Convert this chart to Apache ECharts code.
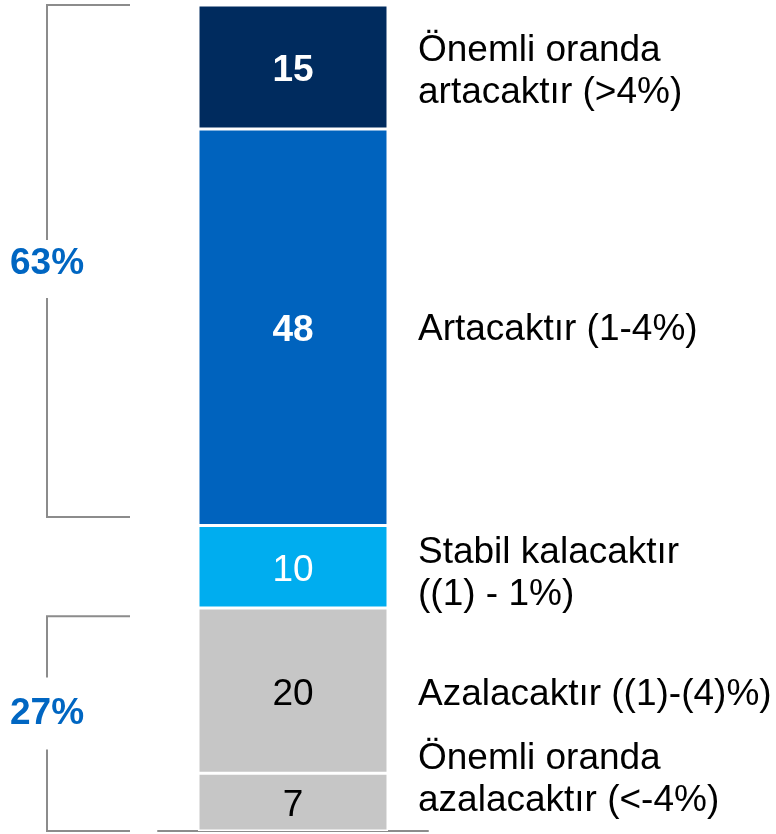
<!DOCTYPE html>
<html>
<head>
<meta charset="utf-8">
<script src="https://cdn.jsdelivr.net/npm/echarts@6/dist/echarts.min.js"></script>
<style>
	html, body { margin: 0; padding: 0; background: #fff; }
	#chart { width: 776px; height: 834px; }
</style>
</head>
<body>
<div id="chart"></div>
<script>
'use strict';
// data, bottom to top
var categories = [''];
var segmentNames = [
	'Önemli oranda\nazalacaktır (<-4%)',
	'Azalacaktır ((1)-(4)%)',
	'Stabil kalacaktır\n((1) - 1%)',
	'Artacaktır (1-4%)',
	'Önemli oranda\nartacaktır (>4%)'
];
var segmentValues = [7, 20, 10, 48, 15];
// bracket spans (value range on the bar scale) and their labels
var groupRanges = [[38, 100], [0, 26]];
var groupLabels = ['63%', '27%'];

// styles
var segmentColors = ['#C6C6C6', '#C6C6C6', '#00ADEF', '#0063BE', '#002B5E'];
var valueColors = ['#000', '#000', '#fff', '#fff', '#fff'];
var valueWeights = ['normal', 'normal', 'normal', 'bold', 'bold'];
var nameOffsets = [[0, -22], [0, 4], [0, 7], [0, 3], [0, 5]];
var bracketTextShift = [3, -10];
var bracketGaps = [[24, 34], [36, 36]];
var fontName = 'Liberation Sans, Arial, sans-serif';
var lineGray = '#8C8C8C';

var chart = echarts.init(document.getElementById('chart'));

var series = [];
// the stacked bar itself
for (var i = 0; i < segmentValues.length; i++) {
	series.push({
		name: segmentNames[i],
		type: 'bar',
		stack: 'bar',
		xAxisIndex: 0,
		yAxisIndex: 0,
		barWidth: 190,
		itemStyle: { color: segmentColors[i], borderColor: '#fff', borderWidth: 1.5 },
		label: {
			show: true,
			position: 'inside',
			offset: [0, 4],
			fontFamily: fontName,
			fontSize: 37,
			fontWeight: valueWeights[i],
			color: valueColors[i],
			formatter: '{c}'
		},
		data: [segmentValues[i]]
	});
}
// invisible twin stack carrying the category names on the right
for (var j = 0; j < segmentValues.length; j++) {
	series.push({
		name: segmentNames[j] + ' ',
		type: 'bar',
		stack: 'names',
		xAxisIndex: 1,
		yAxisIndex: 1,
		barWidth: '100%',
		silent: true,
		itemStyle: { color: 'rgba(0,0,0,0)' },
		label: {
			show: true,
			position: 'insideLeft',
			distance: 0,
			offset: nameOffsets[j],
			fontFamily: fontName,
			fontSize: 37,
			lineHeight: 42,
			color: '#000',
			formatter: segmentNames[j]
		},
		data: [segmentValues[j]]
	});
}
// brackets on the left
series.push({
	type: 'custom',
	xAxisIndex: 2,
	yAxisIndex: 2,
	silent: true,
	encode: { x: 0, y: [1, 2] },
	renderItem: function (params, api) {
		var k = params.dataIndex;
		var lo = api.coord([0, api.value(1)])[1];
		var hi = api.coord([0, api.value(2)])[1];
		var cs = params.coordSys;
		var x0 = cs.x + 47, x1 = cs.x + 130;
		var ty = (lo + hi) / 2 + bracketTextShift[k];
		var ls = { stroke: lineGray, lineWidth: 2, fill: null };
		return {
			type: 'group',
			children: [
				{ type: 'polyline', shape: { points: [[x1, hi], [x0, hi], [x0, ty - bracketGaps[k][0]]] }, style: ls },
				{ type: 'polyline', shape: { points: [[x0, ty + bracketGaps[k][1]], [x0, lo], [x1, lo]] }, style: ls },
				{
					type: 'text',
					style: {
						x: x0, y: ty,
						text: groupLabels[k],
						fill: '#0066C2',
						font: 'bold 37px ' + fontName,
						align: 'center',
						verticalAlign: 'middle'
					}
				}
			]
		};
	},
	data: groupRanges.map(function (r) { return [0, r[0], r[1]]; })
});

var option = {
	animation: false,
	grid: [
		{ left: 158, width: 270, top: 5, bottom: 3 },
		{ left: 418, right: 0, top: 5, bottom: 3 },
		{ left: 0, width: 150, top: 5, bottom: 3 }
	],
	xAxis: [
		{
			type: 'category', gridIndex: 0, data: categories,
			axisLine: { show: true, lineStyle: { color: lineGray, width: 2 } },
			axisTick: { show: false }, axisLabel: { show: false }
		},
		{ type: 'category', gridIndex: 1, data: categories, show: false },
		{ type: 'category', gridIndex: 2, data: categories, show: false }
	],
	yAxis: [
		{ type: 'value', gridIndex: 0, min: 0, max: 100, show: false, splitLine: { show: false } },
		{ type: 'value', gridIndex: 1, min: 0, max: 100, show: false, splitLine: { show: false } },
		{ type: 'value', gridIndex: 2, min: 0, max: 100, show: false, splitLine: { show: false } }
	],
	series: series
};
chart.setOption(option);
</script>
</body>
</html>
